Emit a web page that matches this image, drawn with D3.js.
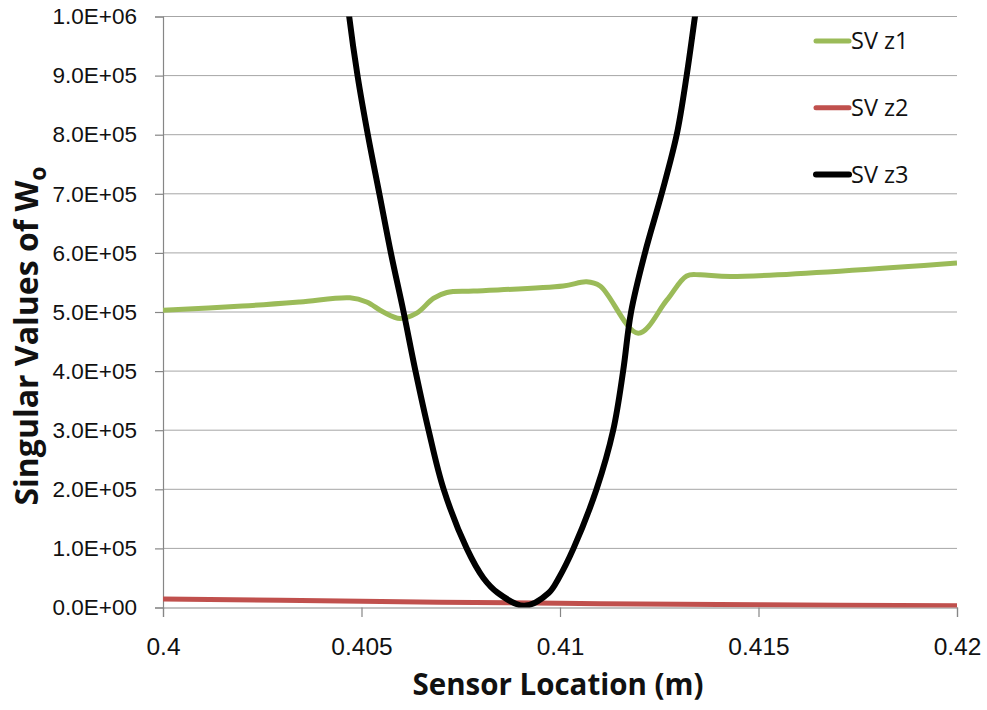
<!DOCTYPE html>
<html>
<head>
<meta charset="utf-8">
<script src="https://cdn.jsdelivr.net/npm/d3@7"></script>
<style>
  body { margin: 0; background: #fff; }
  svg { font-family: "Open Sans", sans-serif; }
</style>
</head>
<body>
<svg id="chart" width="987" height="710"></svg>
<script>
// values
const svZ1X = [0.4, 0.402, 0.40345, 0.40471, 0.40513, 0.40555, 0.40597, 0.40639, 0.40681, 0.40715, 0.40782, 0.41008, 0.41067, 0.41101, 0.41197, 0.41269, 0.41319, 0.41353, 0.4143, 0.42];
const svZ1Y = [5.03e5, 5.1e5, 5.17e5, 5.24e5, 5.17e5, 5.0e5, 4.89e5, 4.98e5, 5.23e5, 5.33e5, 5.355e5, 5.44e5, 5.51e5, 5.44e5, 4.64e5, 5.2e5, 5.61e5, 5.63e5, 5.6e5, 5.83e5];

const svZ2X = [0.4, 0.405, 0.41, 0.415, 0.42];
const svZ2Y = [1.45e4, 1.05e4, 0.7e4, 0.45e4, 0.3e4];

const svZ3X = [0.4045, 0.40469, 0.4049, 0.40516, 0.40545, 0.40574, 0.40606, 0.40636, 0.40669, 0.40707, 0.40765, 0.40807, 0.40843, 0.4091, 0.40972, 0.40997, 0.41034, 0.41092, 0.41134, 0.41159, 0.41179, 0.41214, 0.41256, 0.41294, 0.41319, 0.4134, 0.41361];
const svZ3Y = [1.12e6, 1.0e6, 9e5, 8e5, 7e5, 6e5, 5e5, 4e5, 3e5, 2e5, 1e5, 0.5e5, 0.25e5, 0.03e5, 0.25e5, 0.5e5, 1e5, 2e5, 3e5, 4e5, 5e5, 6e5, 7e5, 8e5, 9e5, 1e6, 1.1e6];

const seriesNames = ["SV z1", "SV z2", "SV z3"];
const seriesColors = ["#9bbb59", "#c0504d", "#000000"];

const xTicks = [0.4, 0.405, 0.41, 0.415, 0.42];
const yTicks = [0, 1e5, 2e5, 3e5, 4e5, 5e5, 6e5, 7e5, 8e5, 9e5, 1e6];

const margin = { top: 16.5, right: 30, bottom: 102.5, left: 163 };
const width = 987 - margin.left - margin.right;
const height = 710 - margin.top - margin.bottom;

const svg = d3.select("#chart");
const g = svg.append("g").attr("transform", "translate(" + margin.left + "," + margin.top + ")");

const x = d3.scaleLinear().domain([0.4, 0.42]).range([0, width]);
const y = d3.scaleLinear().domain([0, 1e6]).range([height, 0]);

function expFormat(v) {
	let parts = v.toExponential(1).split("e");
	let sign = parts[1][0];
	let ex = parts[1].slice(1).padStart(2, "0");
	return parts[0] + "E" + sign + ex;
}

// gridlines
g.append("g")
	.selectAll("line")
	.data(yTicks.filter(t => t > 0))
	.enter()
	.append("line")
	.attr("x1", 0)
	.attr("x2", width)
	.attr("y1", d => y(d))
	.attr("y2", d => y(d))
	.style("stroke", "#a6a6a6")
	.style("stroke-width", 1);

// axes
const yAxis = g.append("g")
	.call(d3.axisLeft(y).tickValues(yTicks).tickFormat(expFormat).tickSize(8).tickPadding(18));
yAxis.selectAll("text").style("font-size", "22.5px").style("fill", "#111");

const xAxis = g.append("g")
	.attr("transform", "translate(0," + height + ")")
	.call(d3.axisBottom(x).tickValues(xTicks).tickFormat(d3.format("")).tickSize(9.5).tickPadding(21));
xAxis.selectAll("text").style("font-size", "24.5px").style("fill", "#111");

svg.selectAll(".domain, .tick line").style("stroke", "#868686").style("stroke-width", 1.2);

// clip for lines
svg.append("defs").append("clipPath").attr("id", "plot")
	.append("rect").attr("x", 0).attr("y", 0).attr("width", width).attr("height", height);

const line = d3.line()
	.x(d => x(d[0]))
	.y(d => y(d[1]))
	.curve(d3.curveCatmullRom.alpha(0.5));

const series = [
	d3.zip(svZ1X, svZ1Y),
	d3.zip(svZ2X, svZ2Y),
	d3.zip(svZ3X, svZ3Y)
];
const widths = [5, 5, 6];

const plot = g.append("g").attr("clip-path", "url(#plot)");
series.forEach((s, i) => {
	plot.append("path")
		.datum(s)
		.attr("d", line)
		.style("fill", "none")
		.style("stroke", seriesColors[i])
		.style("stroke-width", widths[i])
		.style("stroke-linejoin", "round");
});

// legend
const legend = svg.append("g").attr("transform", "translate(816,41)");
seriesNames.forEach((name, i) => {
	let row = legend.append("g").attr("transform", "translate(0," + i * 66.8 + ")");
	row.append("line")
		.attr("x1", 0).attr("x2", 33)
		.attr("y1", 0).attr("y2", 0)
		.style("stroke", seriesColors[i])
		.style("stroke-width", widths[i])
		.style("stroke-linecap", "round");
	row.append("text")
		.attr("x", 35)
		.attr("y", 8)
		.style("font-size", "23.5px")
		.style("fill", "#111")
		.text(name);
});

// axis titles
svg.append("text")
	.attr("x", margin.left + width / 2 - 2)
	.attr("y", 695)
	.attr("text-anchor", "middle")
	.style("font-size", "29.5px")
	.style("font-weight", "bold")
	.style("fill", "#111")
	.text("Sensor Location (m)");

const yTitle = svg.append("text")
	.attr("transform", "translate(38,336) rotate(-90)")
	.attr("text-anchor", "middle")
	.style("font-size", "32px")
	.style("font-weight", "bold")
	.style("fill", "#111");
yTitle.append("tspan").text("Singular Values of W");
yTitle.append("tspan").attr("dy", 8).style("font-size", "23px").text("o");
</script>
</body>
</html>
